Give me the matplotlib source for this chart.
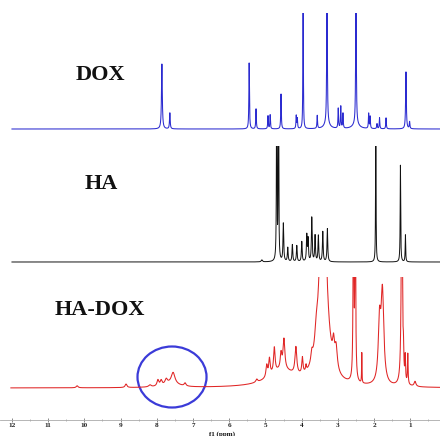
import numpy as np
import matplotlib
matplotlib.use("Agg")
import matplotlib.pyplot as plt
from matplotlib.patches import Ellipse
from matplotlib.ticker import MultipleLocator

# ---------------- data: peak lists ----------------
# DOX (ppm, height, half-width)
dox_ppm = [7.86, 7.64, 5.45, 5.26, 4.93, 4.87, 4.57, 4.15, 4.12, 3.96, 3.57,
           3.30, 3.30, 2.99, 2.92, 2.86, 2.50, 2.50, 2.15, 2.11, 1.92, 1.85,
           1.67, 1.12, 1.02]
dox_height = [65, 16, 66, 20, 13, 14, 35, 13, 10, 200, 13,
              200, 6, 20, 22, 15, 200, 5, 15, 12, 5, 11,
              11, 57, 7]
dox_width = [0.013, 0.011, 0.009, 0.009, 0.009, 0.009, 0.009, 0.009, 0.009, 0.006, 0.009,
             0.008, 0.08, 0.009, 0.009, 0.009, 0.008, 0.10, 0.009, 0.009, 0.01, 0.009,
             0.009, 0.011, 0.010]

# HA
ha_ppm = [5.10, 4.69, 4.64, 4.506, 4.384, 4.257, 4.135, 3.997, 3.859, 3.823,
          3.721, 3.630, 3.539, 3.417, 3.290, 1.953, 1.273, 1.135]
ha_height = [2, 200, 200, 38, 14, 17, 16, 20, 26, 22,
             44, 26, 26, 30, 33, 200, 97, 27]
ha_width = [0.02, 0.008, 0.008, 0.012, 0.012, 0.012, 0.012, 0.012, 0.012, 0.012,
            0.012, 0.012, 0.012, 0.012, 0.012, 0.006, 0.008, 0.008]

# HA-DOX
hadox_ppm = [10.20, 8.85, 8.19, 7.97, 7.88, 7.74, 7.55, 7.60, 7.22,
             5.24, 4.965, 4.89, 4.755, 4.57, 4.49, 4.16, 3.98, 3.88, 3.72, 3.60,
             4.55, 3.41, 3.12, 3.05, 2.57, 2.52, 2.34, 1.85, 1.77,
             1.235, 1.19, 1.14, 1.07, 0.87]
hadox_height = [2, 3.5, 2, 6, 5, 5, 11, 4, 3,
                3, 12, 17, 25, 15, 30, 27, 16, 6, 10, 14,
                16, 220, 20, 22, 200, 200, 30, 58, 90,
                200, 20, 24, 30, 5]
hadox_width = [0.03, 0.03, 0.04, 0.03, 0.03, 0.04, 0.06, 0.25, 0.03,
               0.03, 0.025, 0.025, 0.025, 0.025, 0.03, 0.03, 0.02, 0.015, 0.03, 0.04,
               0.45, 0.11, 0.03, 0.04, 0.012, 0.012, 0.006, 0.04, 0.045,
               0.020, 0.01, 0.01, 0.01, 0.03]

tick_values = list(range(1, 13))
labels = ["DOX", "HA", "HA-DOX"]


def spectrum(x, ppm, height, width):
    y = np.zeros_like(x)
    for p, h, w in zip(ppm, height, width):
        y += h / (1.0 + ((x - p) / w) ** 2)
    return y


W, H = 440, 436
fig = plt.figure(figsize=(W / 100, H / 100), dpi=100)

XL = (12.33, 0.18)


def px_axes(top, bottom):
    ax = fig.add_axes([0, 1 - bottom / H, 1, (bottom - top) / H])
    ax.set_xlim(*XL)
    for s in ax.spines.values():
        s.set_visible(False)
    ax.set_xticks([])
    ax.set_yticks([])
    ax.patch.set_alpha(0)
    return ax


x = np.linspace(12.0, 0.18, 12000)
x3 = np.linspace(12.03, 0.18, 12000)

ax1 = px_axes(13, 135)
ax1.set_ylim(-6, 116)
ax1.plot(x, spectrum(x, dox_ppm, dox_height, dox_width), color="#2b2bd0", lw=0.75)

ax2 = px_axes(146, 268)
ax2.set_ylim(-6, 116)
ax2.plot(x, spectrum(x, ha_ppm, ha_height, ha_width), color="#111111", lw=0.7)

ax3 = px_axes(277, 420)
ax3.set_ylim(-32, 111)
ax3.plot(x3, spectrum(x3, hadox_ppm, hadox_height, hadox_width), color="#e02525", lw=0.75)
ax3.add_patch(Ellipse((7.58, 11), width=1.906, height=61, fill=False,
                      edgecolor="#3b3bd8", lw=1.6, clip_on=False))

ax3.spines["bottom"].set_visible(True)
ax3.spines["bottom"].set_color("#aaaaaa")
ax3.spines["bottom"].set_linewidth(0.6)
ax3.xaxis.set_major_locator(MultipleLocator(1))
ax3.xaxis.set_minor_locator(MultipleLocator(0.5))
ax3.set_xticks(tick_values)
ax3.set_xticklabels([str(t) for t in tick_values])
ax3.tick_params(axis="x", which="major", direction="inout", length=3, width=0.6,
                color="#777777", pad=0.5, labelsize=5.2, labelcolor="#222222")
ax3.tick_params(axis="x", which="minor", direction="inout", length=2, width=0.5,
                color="#999999")
for t in ax3.get_xticklabels():
    t.set_fontfamily("Liberation Serif")
    t.set_fontweight("bold")

font = dict(family="Liberation Serif", weight="bold", color="#111111")
fig.text(100 / W, 1 - 75 / H, labels[0], ha="center", va="center", fontsize=16, **font)
fig.text(101 / W, 1 - 184 / H, labels[1], ha="center", va="center", fontsize=16, **font)
fig.text(100 / W, 1 - 310 / H, labels[2], ha="center", va="center", fontsize=16, **font)
fig.text(222 / W, 1 - 431.5 / H, "f1 (ppm)", ha="center", va="top", fontsize=5, **font)

fig.savefig("out.png", dpi=100)
